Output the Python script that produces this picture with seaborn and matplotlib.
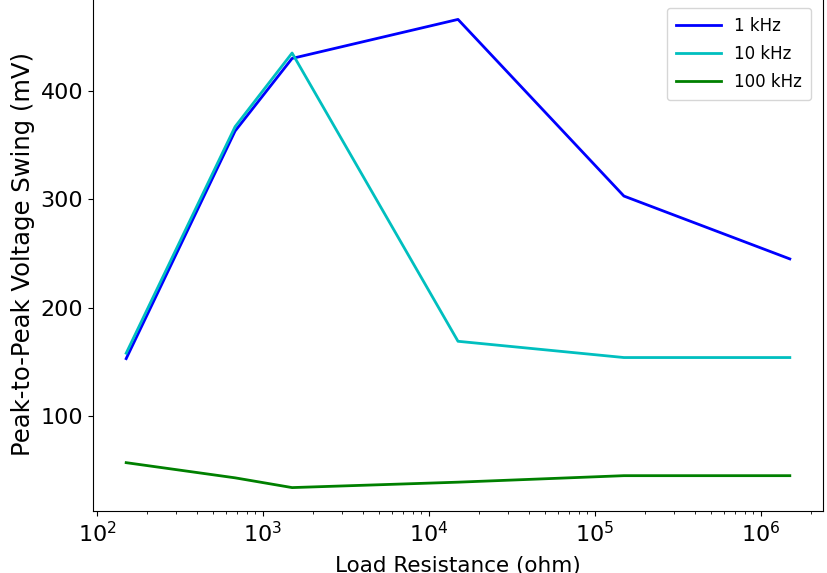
import pandas as pd
import matplotlib
matplotlib.use("Agg")
import matplotlib.pyplot as plt
import seaborn as sns

# load resistance (ohm) and peak-to-peak swing (mV)
resistance = [150, 680, 1500, 15000, 150000, 1500000]
swing_1k = [153, 363, 430, 466, 303, 245]
swing_10k = [158, 367, 435, 169, 154, 154]
swing_100k = [57, 43, 34, 39, 45, 45]
labels = ['1 kHz', '10 kHz', '100 kHz']
colors = ['b', 'c', 'g']

frames = []
for name, vals in zip(labels, [swing_1k, swing_10k, swing_100k]):
    frames.append(pd.DataFrame({'R': resistance, 'V': vals, 'freq': name}))
df = pd.concat(frames, ignore_index=True)

fig = plt.figure(figsize=(8.27, 5.73), dpi=100)
ax = fig.add_axes([93 / 827, 62 / 573, 730 / 827, 515 / 573])

sns.lineplot(data=df, x='R', y='V', hue='freq', palette=dict(zip(labels, colors)),
             linewidth=2, ax=ax, sort=False, estimator=None)
ax.set_xscale('log')
ax.set_yticks([100, 200, 300, 400])
ax.tick_params(labelsize=16)
ax.set_xlabel('Load Resistance (ohm)', fontsize=15.5, labelpad=7)
ax.set_ylabel('Peak-to-Peak Voltage Swing (mV)', fontsize=17.5)
ax.legend(loc='upper right', fontsize=12, title=None, borderpad=0.55,
          labelspacing=0.6, handlelength=2.7, borderaxespad=0.7)

fig.savefig('out.png', dpi=100)
